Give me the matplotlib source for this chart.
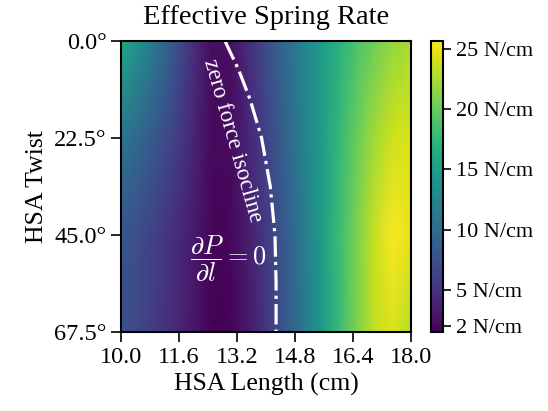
import numpy as np
import matplotlib
matplotlib.use("Agg")
import matplotlib.pyplot as plt

plt.rcParams['font.family'] = ['Liberation Serif', 'DejaVu Serif']
plt.rcParams['mathtext.fontset'] = 'cm'
plt.rcParams['font.size'] = 17.5

# grid of HSA length (cm) and twist (deg)
lengths = [10.0, 10.5, 11.0, 11.5, 12.0, 12.5, 13.0, 13.5, 14.0,
           14.5, 15.0, 15.5, 16.0, 16.5, 17.0, 17.5, 18.0]
twists = [0.0, 22.5, 45.0, 67.5]

# effective spring rate (N/cm), one row per twist
rate_0 = [16.0, 13.5, 10.8, 7.8, 4.8, 2.4, 2.4, 4.6, 7.0,
          9.6, 12.2, 14.6, 16.8, 18.8, 20.4, 21.7, 22.6]
rate_22 = [11.0, 9.5, 7.9, 6.1, 4.0, 2.1, 2.1, 4.0, 6.3,
           8.9, 11.7, 14.6, 17.4, 20.0, 22.3, 23.9, 24.3]
rate_45 = [8.0, 7.0, 5.9, 4.6, 3.2, 1.8, 1.9, 3.4, 5.6,
           8.2, 11.2, 14.5, 17.8, 20.8, 23.6, 25.5, 24.8]
rate_67 = [7.5, 6.6, 5.5, 4.3, 3.0, 1.6, 1.7, 3.1, 5.2,
           7.8, 10.9, 14.2, 17.6, 20.8, 23.5, 24.3, 23.0]

# zero force isocline
iso_twist = [0.0, 6.75, 13.5, 22.5, 33.75, 45.0, 56.25, 67.5]
iso_length = [12.87, 13.25, 13.56, 13.88, 14.12, 14.25, 14.28, 14.28]

cbar_ticks = [2, 5, 10, 15, 20, 25]
xticks = [10.0, 11.6, 13.2, 14.8, 16.4, 18.0]
yticks = [0.0, 22.5, 45.0, 67.5]

fig = plt.figure(figsize=(5.48, 4.11), dpi=100)
ax = fig.add_axes([0.2208, 0.1922, 0.529, 0.708])
cax = fig.add_axes([0.7865, 0.1922, 0.0219, 0.708])

L, T = np.meshgrid(lengths, twists)
Z = np.array([rate_0, rate_22, rate_45, rate_67])
mesh = ax.pcolormesh(L, T, Z, shading='gouraud', cmap='viridis',
                     vmin=1.5, vmax=25.65, rasterized=True)

ax.plot(iso_length, iso_twist, color='white', lw=2.3, ls='-.')
ax.text(13.08, 23.2, 'zero force isocline', color='white', fontsize=16.5,
        rotation=-74, ha='center', va='center')
ax.text(12.95, 50.6, r'$\dfrac{\partial P}{\partial l} = 0$', color='white',
        fontsize=19, ha='center', va='center')

ax.set_xlim(10, 18)
ax.set_ylim(67.5, 0)
ax.set_xticks(xticks)
ax.set_xticklabels(['%.1f' % v for v in xticks])
ax.set_yticks(yticks)
ax.set_yticklabels(['%.1f\u00b0' % v for v in yticks])
ax.set_xlabel('HSA Length (cm)', fontsize=18.5)
ax.set_ylabel('HSA Twist', fontsize=18.5)
ax.set_title('Effective Spring Rate', fontsize=20.5, pad=12)
for s in ax.spines.values():
    s.set_linewidth(1.5)
ax.tick_params(width=1.2, length=7)

cb = fig.colorbar(mesh, cax=cax)
cb.set_ticks(cbar_ticks)
cb.set_ticklabels(['%d N/cm' % v for v in cbar_ticks])
cb.outline.set_linewidth(1.5)
cax.tick_params(width=1.2, length=6, labelsize=16)

fig.savefig('out.png', dpi=100)
